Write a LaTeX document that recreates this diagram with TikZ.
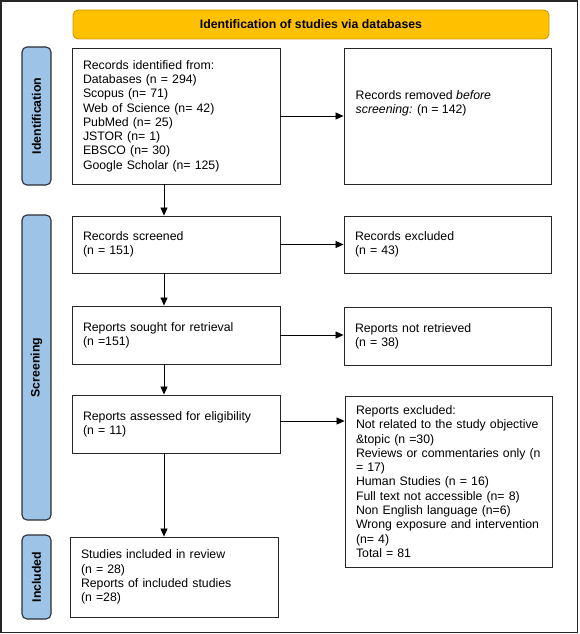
\documentclass[tikz,border=0pt]{standalone}
\usepackage{fontspec}
\setmainfont{Liberation Sans}
\usetikzlibrary{arrows.meta}
\definecolor{bannerfill}{HTML}{FFC000}
\definecolor{bannerdraw}{HTML}{C99A06}
\definecolor{barfill}{HTML}{9DC3E6}
\definecolor{bardraw}{HTML}{2A2F36}
\tikzset{
  txt/.style={font=\fontsize{12.3}{14.3}\selectfont},
  box/.style={draw=black!85, line width=0.9pt, fill=white, rectangle, inner sep=0pt, txt},
  boxtext/.style={box, align=left, text width=#1},
  banner/.style={draw=bannerdraw, line width=0.9pt, fill=bannerfill, rounded corners=5pt,
    minimum width=476pt, minimum height=29pt, inner sep=0pt, font=\fontsize{12.3}{14.3}\selectfont\bfseries},
  sidebar/.style={draw=bardraw, line width=1.1pt, fill=barfill, rounded corners=5pt,
    minimum width=29pt, inner sep=0pt},
  sidelabel/.style={rotate=90, font=\fontsize{12.3}{14.3}\selectfont\bfseries},
  arr/.style={draw=black, line width=0.8pt, -{Triangle[length=8pt,width=7pt]}}
}
\begin{document}
\begin{tikzpicture}[x=1pt,y=-1pt]
\useasboundingbox (0,0) rectangle (579,634);
\draw[line width=1.2pt, draw=black!85] (1,1) rectangle (577.5,632.5);

\node[banner] (banner) at (311,24.5) {Identification of studies via databases};

\node[sidebar, minimum height=138pt] (idbar) at (36.5,116) {};
\node[sidelabel] (idlab) at (idbar.center) {Identification};
\node[sidebar, minimum height=305pt] (scbar) at (36.5,367.5) {};
\node[sidelabel] (sclab) at (scbar.center) {Screening};
\node[sidebar, minimum height=84pt] (inbar) at (36.5,577) {};
\node[sidelabel] (inlab) at (inbar.center) {Included};

\node[boxtext=186pt, minimum width=208pt, minimum height=136pt] (ident) at (176,116)
 {Records identified from:\\Databases (n = 294)\\Scopus (n= 71)\\Web of Science (n= 42)\\PubMed (n= 25)\\JSTOR (n= 1)\\EBSCO (n= 30)\\Google Scholar (n= 125)};
\node[box, minimum width=207pt, minimum height=136pt] (removed) at (447.5,116) {};
\node[txt, align=left, anchor=west, inner sep=0pt] (removedtxt) at (355.5,103)
 {Records removed \textit{before}\\\textit{screening:} (n = 142)};

\node[boxtext=186pt, minimum width=208pt, minimum height=57pt] (screened) at (176,244.5)
 {Records screened\\(n = 151)};
\node[boxtext=185pt, minimum width=207pt, minimum height=57pt] (excl) at (447.5,244.5)
 {Records excluded\\(n = 43)};

\node[boxtext=186pt, minimum width=208pt, minimum height=58pt] (sought) at (176,335)
 {Reports sought for retrieval\\(n =151)};
\node[boxtext=185pt, minimum width=207pt, minimum height=58pt] (notret) at (447.5,336)
 {Reports not retrieved\\(n = 38)};

\node[boxtext=186pt, minimum width=208pt, minimum height=58pt] (assessed) at (176,424)
 {Reports assessed for eligibility\\(n = 11)};
\node[boxtext=185pt, minimum width=207pt, minimum height=171pt] (repexcl) at (448.5,481.5)
 {Reports excluded:\\Not related to the study objective\\\&topic (n =30)\\Reviews or commentaries only (n\\= 17)\\Human Studies (n = 16)\\Full text not accessible (n= 8)\\Non English language (n=6)\\Wrong exposure and intervention\\(n= 4)\\Total = 81};

\node[boxtext=186pt, minimum width=208pt, minimum height=80pt] (included) at (174,577)
 {Studies included in review\\(n = 28)\\Reports of included studies\\(n =28)};

\coordinate (col) at (164,0);
\draw[arr] (ident.east) -- (removed.west);
\draw[arr] (screened.east) -- (screened.east -| excl.west);
\draw[arr] (sought.east) -- (sought.east -| notret.west);
\draw[arr] ([yshift=3pt]assessed.east) -- ([yshift=3pt]assessed.east -| repexcl.west);
\draw[arr] (ident.south -| col) -- (screened.north -| col);
\draw[arr] (screened.south -| col) -- (sought.north -| col);
\draw[arr] (sought.south -| col) -- (assessed.north -| col);
\draw[arr] (assessed.south -| col) -- (included.north -| col);
\end{tikzpicture}
\end{document}
